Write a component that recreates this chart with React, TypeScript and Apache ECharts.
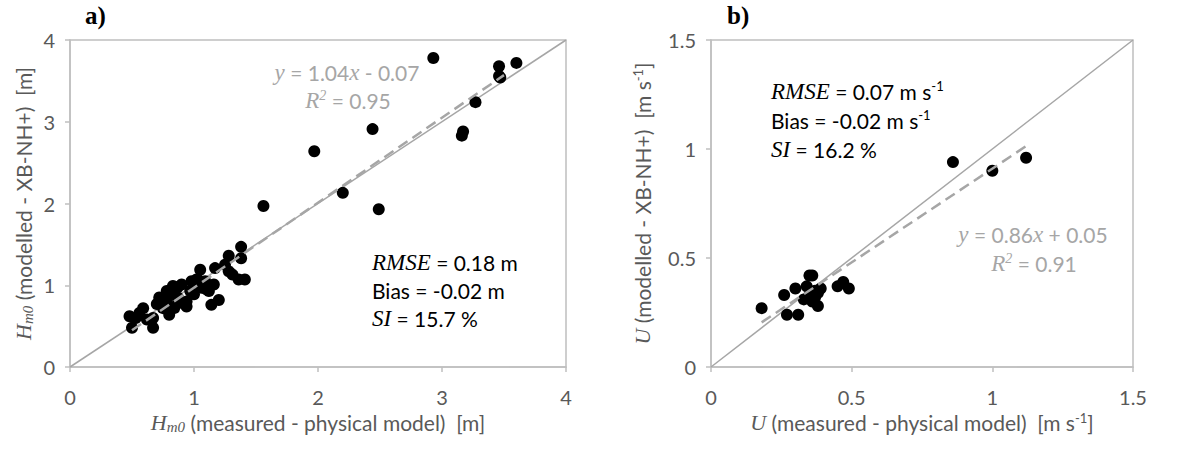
import React, { useEffect, useRef } from "react";
import * as echarts from "echarts";

// ---- Data ----
const hMeasured = [
  2.93, 3.46, 3.46, 3.47, 3.6, 3.27, 3.16, 3.17, 2.44, 1.97, 2.2, 2.49, 1.56,
  1.38, 1.28, 1.38, 1.25, 1.17, 1.28, 1.31, 1.36, 1.41, 1.05, 1.16, 1.12, 1.14,
  1.2, 1.03, 0.97, 0.9, 0.87, 0.78, 0.83, 0.87, 0.94, 0.94, 0.84, 0.8, 0.72,
  0.7, 0.75, 0.67, 0.67, 0.59, 0.56, 0.53, 0.48, 0.5, 0.62, 0.98, 1.06, 1.0,
  1.02, 0.78, 0.87, 0.83, 1.09, 1.1,
];
const hModelled = [
  3.78, 3.68, 3.56, 3.54, 3.72, 3.24, 2.83, 2.88, 2.91, 2.64, 2.13, 1.93, 1.97,
  1.47, 1.36, 1.33, 1.25, 1.21, 1.17, 1.13, 1.07, 1.07, 1.19, 1.01, 0.93, 0.76,
  0.82, 1.07, 0.93, 1.01, 0.98, 0.93, 0.89, 0.85, 0.8, 0.74, 0.72, 0.64, 0.85,
  0.77, 0.72, 0.6, 0.48, 0.72, 0.66, 0.6, 0.62, 0.48, 0.58, 1.05, 0.97, 0.89,
  1.07, 0.8, 0.78, 0.99, 1.05, 0.95,
];
const uMeasured = [
  0.18, 0.26, 0.27, 0.3, 0.31, 0.33, 0.34, 0.35, 0.35, 0.36, 0.36, 0.37, 0.37,
  0.38, 0.38, 0.39, 0.45, 0.47, 0.49, 0.86, 1.0, 1.12,
];
const uModelled = [
  0.27, 0.33, 0.24, 0.36, 0.24, 0.31, 0.37, 0.42, 0.33, 0.42, 0.3, 0.35, 0.32,
  0.28, 0.34, 0.36, 0.37, 0.39, 0.36, 0.94, 0.9, 0.96,
];
const hAxisRange = [0, 4];
const hTickStep = 1;
const uAxisRange = [0, 1.5];
const uTickStep = 0.5;
// trend lines (Excel linear fit shown on the chart)
const hFitSlope = 1.04;
const hFitIntercept = -0.07;
const hFitX = [0.5, 3.5];
const uFitSlope = 0.86;
const uFitIntercept = 0.05;
const uFitX = [0.18, 1.12];

const GRAY_AXIS = "#bfbfbf";
const GRAY_TEXT = "#595959";
const GRAY_FIT = "#a6a6a6";
const SANS = "Lato";
const SERIF = "Liberation Serif";

const nameRich = {
  i: { fontFamily: SERIF, fontStyle: "italic", fontSize: 22, color: GRAY_TEXT },
  sub: { fontFamily: SERIF, fontStyle: "italic", fontSize: 15, color: GRAY_TEXT, verticalAlign: "bottom", padding: [9, 0, 0, 0] },
  n: { fontFamily: SANS, fontSize: 21, color: GRAY_TEXT },
  sup: { fontFamily: SANS, fontSize: 13, color: GRAY_TEXT, verticalAlign: "top", padding: [0, 0, 9, 0] },
};

function makeAxis(range: number[], step: number, gridIndex: number, name: string, gap: number, rotate?: number) {
  return {
    type: "value",
    gridIndex,
    min: range[0],
    max: range[1],
    interval: step,
    name,
    nameLocation: "middle",
    nameGap: gap,
    nameRotate: rotate,
    nameTextStyle: { rich: nameRich },
    axisLine: { show: true, onZero: false, lineStyle: { color: GRAY_AXIS, width: 1.5 } },
    axisTick: { show: true, inside: false, length: 5, lineStyle: { color: GRAY_AXIS, width: 1.5 } },
    splitLine: { show: false },
    axisLabel: { color: GRAY_TEXT, fontSize: 20, fontFamily: SANS, margin: rotate ? 15 : 20 },
  };
}

function zip(a: number[], b: number[]) {
  return a.map((v, i) => [v, b[i]]);
}

export default function App() {
  const ref = useRef<HTMLDivElement>(null);
  useEffect(() => {
    document.body.style.margin = "0";
    if (!ref.current) return;
    const chart = echarts.init(ref.current, undefined, { renderer: "svg" });

    const statRich = {
      i: { fontFamily: SERIF, fontStyle: "italic", fontSize: 23, fill: "#000" },
      n: { fontFamily: SANS, fontSize: 21, fill: "#000" },
      sup: { fontFamily: SANS, fontSize: 13, fill: "#000", verticalAlign: "top", padding: [0, 0, 10, 0] },
    };
    const fitRich = {
      i: { fontFamily: SERIF, fontStyle: "italic", fontSize: 23, fill: GRAY_FIT },
      n: { fontFamily: SANS, fontSize: 21, fill: GRAY_FIT },
      sup: { fontFamily: SERIF, fontStyle: "italic", fontSize: 14, fill: GRAY_FIT, verticalAlign: "top", padding: [0, 0, 10, 0] },
    };
    const txt = (x: number, y: number, text: string, rich: any, align = "left") => ({
      type: "text",
      x,
      y,
      style: { text, rich, align, verticalAlign: "middle" },
      z: 10,
    });

    const option = {
      animation: false,
      grid: [
        { left: 70, top: 40, width: 496, height: 327, show: true, borderColor: GRAY_AXIS, borderWidth: 1.5 },
        { left: 711, top: 40, width: 422, height: 327, show: true, borderColor: GRAY_AXIS, borderWidth: 1.5 },
      ],
      xAxis: [
        makeAxis(hAxisRange, hTickStep, 0, "{i|H}{sub|m0}{n| (measured - physical model)  [m]}", 43),
        makeAxis(uAxisRange, uTickStep, 1, "{i|U}{n| (measured - physical model)  [m s}{sup|-1}{n|]}", 43),
      ],
      yAxis: [
        makeAxis(hAxisRange, hTickStep, 0, "{i|H}{sub|m0}{n| (modelled - XB-NH+)  [m]}", 35, 90),
        makeAxis(uAxisRange, uTickStep, 1, "{i|U}{n| (modelled - XB-NH+)  [m s}{sup|-1}{n|]}", 58, 90),
      ],
      series: [
        {
          type: "line", xAxisIndex: 0, yAxisIndex: 0, symbol: "none", z: 1,
          data: [[hAxisRange[0], hAxisRange[0]], [hAxisRange[1], hAxisRange[1]]],
          lineStyle: { color: GRAY_FIT, width: 1.5 },
        },
        {
          type: "scatter", xAxisIndex: 0, yAxisIndex: 0, symbolSize: 12, z: 2,
          data: zip(hMeasured, hModelled), itemStyle: { color: "#000", opacity: 1 },
        },
        {
          type: "line", xAxisIndex: 0, yAxisIndex: 0, symbol: "none", z: 3,
          data: hFitX.map((x) => [x, hFitSlope * x + hFitIntercept]),
          lineStyle: { color: GRAY_FIT, width: 2.5, type: [11, 6] },
        },
        {
          type: "line", xAxisIndex: 1, yAxisIndex: 1, symbol: "none", z: 1,
          data: [[uAxisRange[0], uAxisRange[0]], [uAxisRange[1], uAxisRange[1]]],
          lineStyle: { color: GRAY_FIT, width: 1.5 },
        },
        {
          type: "scatter", xAxisIndex: 1, yAxisIndex: 1, symbolSize: 12, z: 2,
          data: zip(uMeasured, uModelled), itemStyle: { color: "#000", opacity: 1 },
        },
        {
          type: "line", xAxisIndex: 1, yAxisIndex: 1, symbol: "none", z: 3,
          data: uFitX.map((x) => [x, uFitSlope * x + uFitIntercept]),
          lineStyle: { color: GRAY_FIT, width: 2.5, type: [11, 6] },
        },
      ],
      graphic: [
        { type: "text", x: 85, y: 15, style: { text: "a)", font: "bold 25px 'Liberation Serif'", fill: "#000", verticalAlign: "middle" } },
        { type: "text", x: 727, y: 15, style: { text: "b)", font: "bold 25px 'Liberation Serif'", fill: "#000", verticalAlign: "middle" } },
        txt(347, 72, "{i|y}{n| = 1.04}{i|x}{n| - 0.07}", fitRich, "center"),
        txt(348, 100, "{i|R}{sup|2}{n| = 0.95}", fitRich, "center"),
        txt(372, 262, "{i|RMSE}{n| = 0.18 m}", statRich),
        txt(372, 290, "{n|Bias = -0.02 m}", statRich),
        txt(372, 318, "{i|SI}{n| = 15.7 %}", statRich),
        txt(771, 91, "{i|RMSE}{n| = 0.07 m s}{sup|-1}", statRich),
        txt(771, 120, "{n|Bias = -0.02 m s}{sup|-1}", statRich),
        txt(771, 149, "{i|SI}{n| = 16.2 %}", statRich),
        txt(1033, 234, "{i|y}{n| = 0.86}{i|x}{n| + 0.05}", fitRich, "center"),
        txt(1034, 263, "{i|R}{sup|2}{n| = 0.91}", fitRich, "center"),
      ],
    };
    chart.setOption(option as any);
    return () => chart.dispose();
  }, []);
  return <div ref={ref} style={{ width: 1200, height: 449 }} />;
}
